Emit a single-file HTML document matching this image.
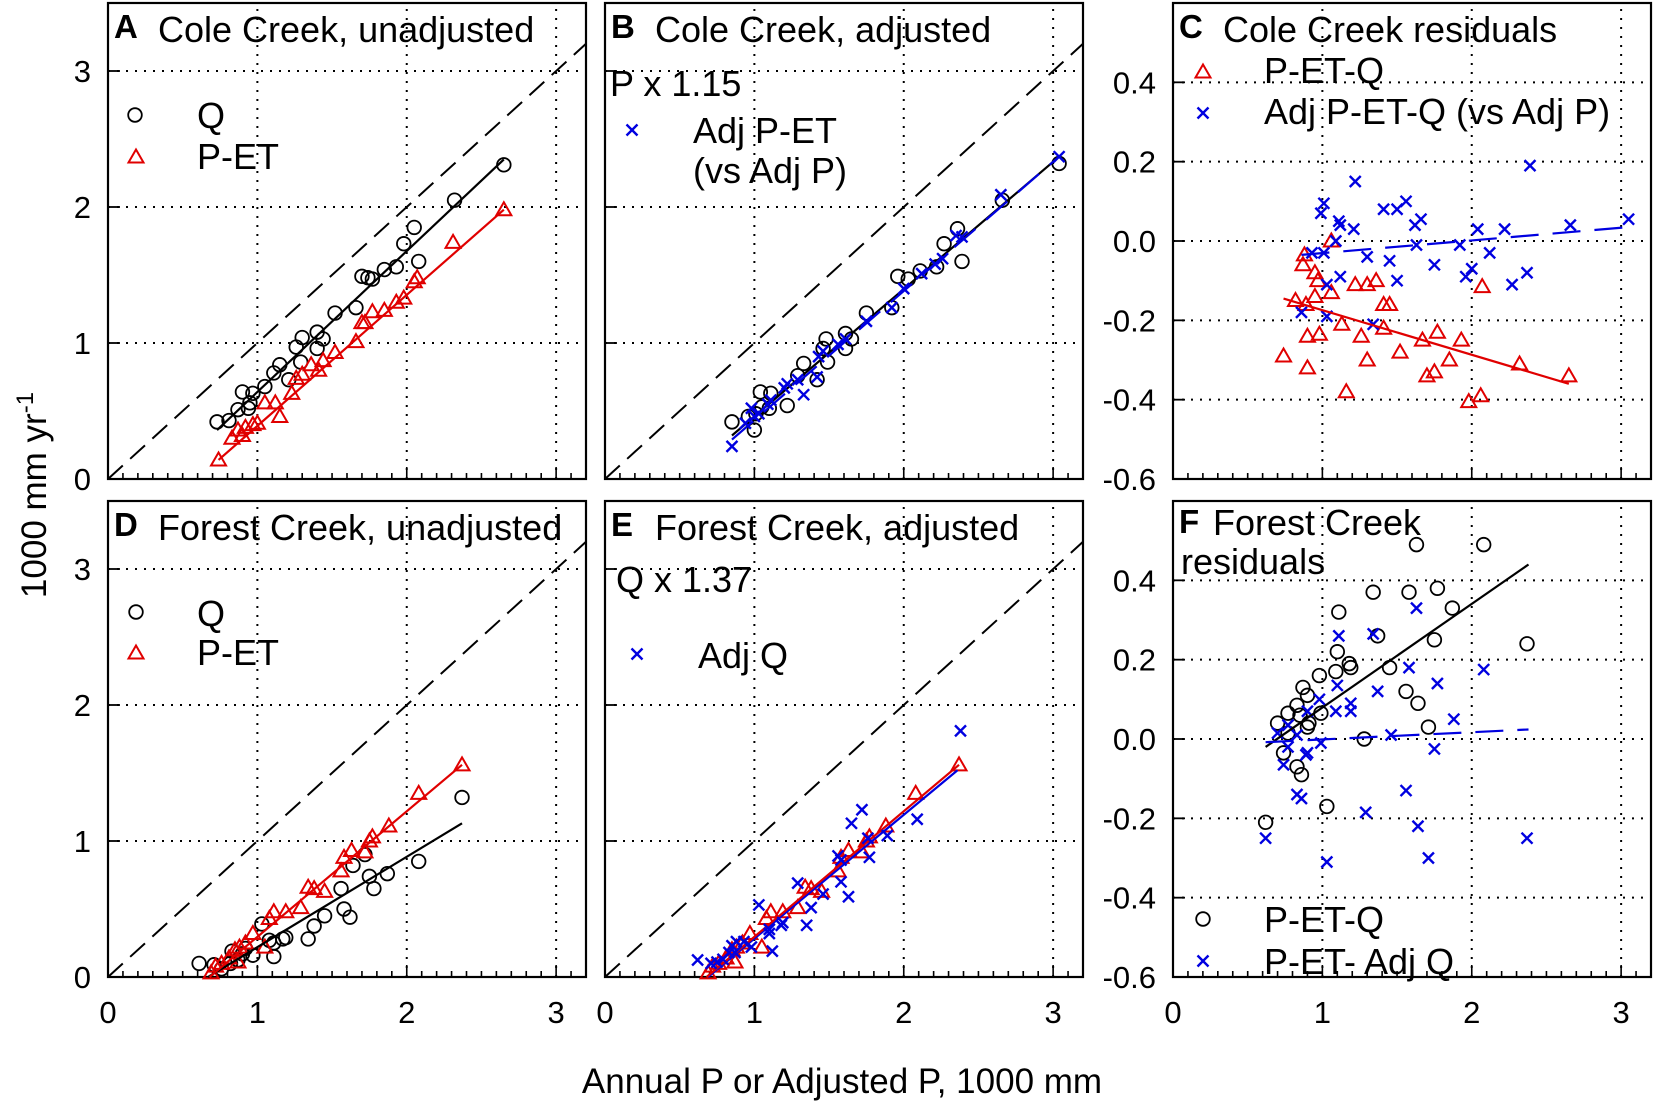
<!DOCTYPE html>
<html><head><meta charset="utf-8">
<style>
html,body{margin:0;padding:0;background:#fff;}
svg{display:block;font-family:"Liberation Sans",Arial,sans-serif;}
</style></head>
<body>
<svg id="fig" width="1655" height="1103" viewBox="0 0 1655 1103" xmlns="http://www.w3.org/2000/svg">
<text x="842" y="1093" font-size="35" text-anchor="middle">Annual P or Adjusted P, 1000 mm</text>
<text transform="translate(46,495) rotate(-90)" font-size="35" text-anchor="middle">1000 mm yr<tspan dy="-13" font-size="24">-1</tspan></text>
</svg>
<script>
// ---- Panel A: Cole Creek unadjusted ----
const aQx=[2.65,2.32,2.05,1.98,2.08,1.93,1.85,1.77,1.74,1.70,1.66,1.52,1.40,1.44,1.40,1.30,1.26,1.29,1.15,1.11,1.05,1.21,0.90,0.97,0.95,0.87,0.81,0.73,0.94];
const aQy=[2.31,2.05,1.85,1.73,1.60,1.56,1.54,1.47,1.48,1.49,1.26,1.22,1.08,1.03,0.96,1.04,0.97,0.86,0.84,0.78,0.68,0.73,0.64,0.63,0.56,0.51,0.43,0.42,0.52];
const aPx=[2.65,2.31,2.07,2.05,1.98,1.93,1.85,1.77,1.72,1.70,1.66,1.52,1.44,1.41,1.36,1.30,1.26,1.23,1.15,1.12,1.05,1.00,0.97,0.92,0.90,0.87,0.83,0.74];
const aPy=[1.98,1.74,1.48,1.45,1.33,1.30,1.24,1.23,1.15,1.15,1.01,0.93,0.87,0.80,0.84,0.77,0.74,0.63,0.46,0.56,0.56,0.41,0.40,0.38,0.32,0.36,0.30,0.14];
const aQfit=[0.73,0.36,2.65,2.35];
const aPfit=[0.74,0.14,2.65,1.98];
// ---- Panel B: Cole Creek adjusted ----
const bQx=[3.04,2.66,2.36,2.27,2.39,2.22,2.11,2.03,1.96,1.92,1.75,1.65,1.61,1.61,1.48,1.46,1.49,1.42,1.33,1.29,1.22,1.11,1.04,1.10,1.05,1.00,0.96,0.85,1.01];
const bQy=[2.32,2.05,1.84,1.73,1.60,1.56,1.53,1.47,1.49,1.26,1.22,1.03,1.07,0.96,1.03,0.96,0.86,0.73,0.85,0.76,0.54,0.63,0.64,0.52,0.53,0.36,0.46,0.42,0.48];
const bAx=[3.04,2.65,2.39,2.35,2.26,2.21,2.12,2.00,1.92,1.75,1.61,1.56,1.46,1.43,1.42,1.33,1.29,1.22,1.20,1.11,1.09,1.03,1.00,0.98,0.94,0.85];
const bAy=[2.37,2.09,1.78,1.79,1.62,1.58,1.51,1.40,1.26,1.16,1.03,0.99,0.94,0.90,0.75,0.62,0.73,0.70,0.67,0.58,0.55,0.48,0.46,0.52,0.41,0.24];
const bQfit=[0.85,0.32,3.04,2.37];
const bAfit=[0.85,0.29,3.05,2.38];
// ---- Panel C: Cole Creek residuals ----
const cRx=[1.06,0.88,0.87,0.95,0.97,1.06,1.22,1.30,1.36,2.07,0.82,0.89,0.95,1.41,1.45,1.13,1.26,0.90,0.98,1.41,1.67,1.77,1.93,0.74,1.30,1.52,1.85,0.90,1.70,1.75,2.32,2.65,1.16,1.98,2.06];
const cRy=[0.00,-0.035,-0.06,-0.08,-0.10,-0.13,-0.11,-0.11,-0.10,-0.115,-0.15,-0.16,-0.14,-0.16,-0.16,-0.21,-0.24,-0.24,-0.235,-0.22,-0.25,-0.23,-0.25,-0.29,-0.30,-0.28,-0.30,-0.32,-0.34,-0.33,-0.31,-0.34,-0.38,-0.405,-0.39];
const cAx=[2.39,1.22,1.01,0.99,1.11,1.12,1.21,1.41,1.50,1.56,1.66,1.62,2.04,2.22,2.66,3.05,1.09,1.63,1.92,0.93,1.01,1.30,1.45,1.75,2.12,2.00,1.96,2.37,2.27,1.12,1.03,1.50,0.86,1.03,1.34];
const cAy=[0.19,0.15,0.095,0.07,0.05,0.04,0.03,0.08,0.08,0.10,0.055,0.04,0.03,0.03,0.04,0.055,0.00,-0.01,-0.01,-0.03,-0.03,-0.04,-0.05,-0.06,-0.03,-0.07,-0.09,-0.08,-0.11,-0.09,-0.11,-0.10,-0.18,-0.19,-0.21];
const cRfit=[0.74,-0.145,2.65,-0.36];
const cAfit=[0.86,-0.035,3.05,0.035];
// ---- Panel D: Forest Creek unadjusted ----
const dQx=[2.37,2.08,1.87,1.75,1.78,1.72,1.64,1.56,1.58,1.62,1.45,1.38,1.34,1.19,1.17,1.11,1.11,1.08,1.03,0.97,0.92,0.87,0.83,0.82,0.76,0.71,0.61,0.90];
const dQy=[1.32,0.85,0.76,0.74,0.65,0.90,0.82,0.65,0.50,0.44,0.45,0.375,0.28,0.29,0.28,0.25,0.15,0.27,0.39,0.16,0.21,0.125,0.19,0.10,0.06,0.09,0.10,0.17];
const dPx=[2.37,2.08,1.88,1.77,1.75,1.72,1.63,1.58,1.56,1.45,1.38,1.34,1.29,1.19,1.11,1.08,1.05,0.97,0.92,0.88,0.85,0.81,0.76,0.72,0.69,0.87];
const dPy=[1.56,1.35,1.11,1.03,1.00,0.92,0.93,0.88,0.78,0.63,0.65,0.66,0.51,0.48,0.48,0.43,0.22,0.32,0.25,0.22,0.20,0.14,0.10,0.08,0.03,0.11];
const dQfit=[0.67,0.0,2.37,1.13];
const dPfit=[0.68,0.0,2.37,1.56];
// ---- Panel E: Forest Creek adjusted ----
const eAx=[2.38,2.09,1.72,1.65,1.89,1.76,1.77,1.56,1.58,1.58,1.63,1.29,1.46,1.38,1.35,1.19,1.18,1.10,1.10,1.03,1.12,0.98,0.93,0.88,0.85,0.83,0.79,0.75,0.71,0.62,0.87];
const eAy=[1.81,1.16,1.23,1.13,1.04,1.02,0.88,0.89,0.86,0.70,0.59,0.69,0.61,0.51,0.38,0.40,0.38,0.32,0.35,0.53,0.19,0.22,0.26,0.26,0.23,0.18,0.13,0.11,0.10,0.125,0.18];
const eAfit=[0.69,0.0,2.36,1.52];
// ---- Panel F: Forest Creek residuals ----
const fRx=[1.63,2.08,1.34,1.58,1.77,1.87,1.11,1.37,1.75,2.37,1.10,1.18,1.19,1.09,1.45,0.98,0.87,0.90,0.83,0.77,0.85,0.99,0.70,0.90,0.91,0.77,1.56,1.64,1.71,1.28,0.74,0.83,0.86,1.03,0.62];
const fRy=[0.49,0.49,0.37,0.37,0.38,0.33,0.32,0.26,0.25,0.24,0.22,0.19,0.18,0.17,0.18,0.16,0.13,0.11,0.085,0.065,0.06,0.065,0.04,0.03,0.04,0.015,0.12,0.09,0.03,0.00,-0.035,-0.07,-0.09,-0.17,-0.21];
const fAx=[1.63,1.11,1.34,1.58,2.08,1.10,1.37,1.77,1.19,1.19,1.09,0.98,0.90,1.88,1.46,0.99,0.77,0.70,0.83,0.77,1.75,0.90,0.89,0.74,0.83,0.86,1.56,1.29,1.64,0.62,2.37,1.03,1.71];
const fAy=[0.33,0.26,0.265,0.18,0.175,0.135,0.12,0.14,0.09,0.07,0.07,0.10,0.07,0.05,0.01,-0.01,0.035,0.015,0.01,-0.02,-0.025,-0.035,-0.04,-0.065,-0.14,-0.15,-0.13,-0.185,-0.22,-0.25,-0.25,-0.31,-0.30];
const fRfit=[0.62,-0.02,2.38,0.44];
const fAfit=[0.62,-0.008,2.38,0.024];
// ---- ticks ----
const xTicks=[0,1,2,3];
const xTickLabels=["0","1","2","3"];
const yTicksMain=[0,1,2,3];
const yTickLabelsMain=["0","1","2","3"];
const yTicksRes=[0.4,0.2,0.0,-0.2,-0.4,-0.6];
const yTickLabelsRes=["0.4","0.2","0.0","-0.2","-0.4","-0.6"];

const NS="http://www.w3.org/2000/svg";
const svg=document.getElementById('fig');
function mk(tag,attrs,parent){const e=document.createElementNS(NS,tag);for(const k in attrs)e.setAttribute(k,attrs[k]);(parent||svg).appendChild(e);return e;}

const colL=[108,605,1173];
const rowB=[479,977];
const PW=478, PH=476, XMAX=3.2;
const FS=36;

function makePanel(col,row,ymin,ymax,name){
  const L=colL[col],B=rowB[row];
  const g=mk('g',{});
  
  
  return {g,L,B,sx:v=>L+v/XMAX*PW,sy:v=>B-(v-ymin)/(ymax-ymin)*PH,ymin,ymax};
}
function frame(p,gridY,gridX){
  gridX.forEach(v=>{ if(v<=0)return; const l=mk('line',{x1:p.sx(v),x2:p.sx(v),y1:p.B,y2:p.B-PH,stroke:'#000','stroke-width':2,'stroke-dasharray':'2,7'},p.g);
    
    });
  gridY.forEach(v=>{ if(Math.abs(v-p.ymin)<1e-9)return; const l=mk('line',{x1:p.L,x2:p.L+PW,y1:p.sy(v),y2:p.sy(v),stroke:'#000','stroke-width':2,'stroke-dasharray':'2,7'},p.g);
    
    });
  for(let i=0;i<=32;i++){const v=i/10;const len=(i%10===0)?12:6;
    mk('line',{x1:p.sx(v),x2:p.sx(v),y1:p.B,y2:p.B-len,stroke:'#000','stroke-width':1.6},p.g);}
  gridY.forEach(v=>mk('line',{x1:p.L,x2:p.L+12,y1:p.sy(v),y2:p.sy(v),stroke:'#000','stroke-width':1.8},p.g));
  const r=mk('rect',{x:p.L,y:p.B-PH,width:PW,height:PH,fill:'none',stroke:'#000','stroke-width':2.2},p.g);
  
  
}
function clipId(p){const id='c'+Math.round(p.L)+'_'+p.B;const cp=mk('clipPath',{id},p.g);mk('rect',{x:p.L,y:p.B-PH,width:PW,height:PH},cp);return id;}
function oneToOne(p){const id=clipId(p);const l=mk('line',{x1:p.sx(0),y1:p.sy(0),x2:p.sx(XMAX),y2:p.sy(XMAX),stroke:'#000','stroke-width':2,'stroke-dasharray':'20,10','clip-path':`url(#${id})`},p.g);
  
  }
function fit(p,f,color,dashed,name){const l=mk('line',{x1:p.sx(f[0]),y1:p.sy(f[1]),x2:p.sx(f[2]),y2:p.sy(f[3]),stroke:color,'stroke-width':2.2},p.g);
  if(dashed)l.setAttribute('stroke-dasharray','28,14');
  
  }
function marker(p,type,cx,cy,name){
  let e;
  if(type==='o'){e=mk('circle',{cx,cy,r:6.8,fill:'none',stroke:'#000','stroke-width':1.8},p.g);}
  else if(type==='t'){e=mk('polygon',{points:`${cx},${cy-7.5} ${cx-7.5},${cy+5.5} ${cx+7.5},${cy+5.5}`,fill:'none',stroke:'#e00000','stroke-width':2},p.g);}
  else {e=mk('path',{d:`M${cx-5.5},${cy-5.5}L${cx+5.5},${cy+5.5}M${cx-5.5},${cy+5.5}L${cx+5.5},${cy-5.5}`,stroke:'#0000e0','stroke-width':2.4,fill:'none'},p.g);}
  
  
  return e;
}
function series(p,xs,ys,type,name){xs.forEach((x,i)=>marker(p,type,p.sx(x),p.sy(ys[i]),name));}
function txt(p,x,y,s,opts,name){const t=mk('text',Object.assign({x,y,'font-size':FS},opts||{}),p?p.g:svg);t.textContent=s;
  
  return t;}
function title(p,letter,s,name){txt(p,p.L+6,p.B-PH+35,letter,{'font-weight':'bold','font-size':33},'panel-letter');txt(p,p.L+50,p.B-PH+39,s,{},name);}

const mainGrid=[0,1,2,3];
const resGrid=[-0.6,-0.4,-0.2,0,0.2,0.4];
const xGrid=[1,2,3];

// Panel A
let p=makePanel(0,0,0,3.5,'panel-a');
frame(p,mainGrid,xGrid);oneToOne(p);
fit(p,aQfit,'#000',false,'q-fit-line');fit(p,aPfit,'#e00000',false,'p-et-fit-line');
series(p,aQx,aQy,'o','q-point');series(p,aPx,aPy,'t','p-et-point');
title(p,'A','Cole Creek, unadjusted','panel-a-title');
marker(p,'o',135,115,'legend-q-marker');txt(p,197,128,'Q',{},'legend-q-label');
marker(p,'t',136,157,'legend-p-et-marker');txt(p,197,169,'P-ET',{},'legend-p-et-label');

// Panel B
p=makePanel(1,0,0,3.5,'panel-b');
frame(p,mainGrid,xGrid);oneToOne(p);
series(p,bQx,bQy,'o','q-point');
fit(p,bQfit,'#000',false,'q-fit-line');fit(p,bAfit,'#0000e0',true,'adj-p-et-fit-line');
series(p,bAx,bAy,'x','adj-p-et-point');
title(p,'B','Cole Creek, adjusted','panel-b-title');
txt(p,610,96,'P x 1.15',{},'adjust-factor-label');
marker(p,'x',632,130,'legend-adj-p-et-marker');
txt(p,693,143,'Adj P-ET',{},'legend-adj-p-et-label');
txt(p,693,183,'(vs Adj P)',{},'legend-adj-p-et-label-2');

// Panel C
p=makePanel(2,0,-0.6,0.6,'panel-c');
frame(p,resGrid,xGrid);
series(p,cRx,cRy,'t','p-et-q-point');series(p,cAx,cAy,'x','adj-p-et-q-point');
fit(p,cRfit,'#e00000',false,'p-et-q-fit-line');fit(p,cAfit,'#0000e0',true,'adj-p-et-q-fit-line');
title(p,'C','Cole Creek residuals','panel-c-title');
marker(p,'t',1203,72,'legend-p-et-q-marker');txt(p,1264,83,'P-ET-Q',{},'legend-p-et-q-label');
marker(p,'x',1203,113,'legend-adj-p-et-q-marker');txt(p,1264,124,'Adj P-ET-Q (vs Adj P)',{},'legend-adj-p-et-q-label');

// Panel D
p=makePanel(0,1,0,3.5,'panel-d');
frame(p,mainGrid,xGrid);oneToOne(p);
series(p,dQx,dQy,'o','q-point');series(p,dPx,dPy,'t','p-et-point');
fit(p,dQfit,'#000',false,'q-fit-line');fit(p,dPfit,'#e00000',false,'p-et-fit-line');
title(p,'D','Forest Creek, unadjusted','panel-d-title');
marker(p,'o',136,612,'legend-q-marker');txt(p,197,626,'Q',{},'legend-q-label');
marker(p,'t',136,653,'legend-p-et-marker');txt(p,197,665,'P-ET',{},'legend-p-et-label');

// Panel E
p=makePanel(1,1,0,3.5,'panel-e');
frame(p,mainGrid,xGrid);oneToOne(p);
series(p,dPx,dPy,'t','p-et-point');
fit(p,eAfit,'#0000e0',false,'adj-q-fit-line');fit(p,dPfit,'#e00000',false,'p-et-fit-line');
series(p,eAx,eAy,'x','adj-q-point');
title(p,'E','Forest Creek, adjusted','panel-e-title');
txt(p,616,592,'Q x 1.37',{},'adjust-factor-label');
marker(p,'x',637,654,'legend-adj-q-marker');txt(p,698,668,'Adj Q',{},'legend-adj-q-label');

// Panel F
p=makePanel(2,1,-0.6,0.6,'panel-f');
frame(p,resGrid,xGrid);
series(p,fRx,fRy,'o','p-et-q-point');series(p,fAx,fAy,'x','p-et-adj-q-point');
fit(p,fRfit,'#000',false,'p-et-q-fit-line');fit(p,fAfit,'#0000e0',true,'p-et-adj-q-fit-line');
txt(p,1179,533,'F',{'font-weight':'bold','font-size':33},'panel-letter');
txt(p,1213,535,'Forest Creek',{},'panel-f-title');
txt(p,1181,574,'residuals',{},'panel-f-title-2');
marker(p,'o',1203,919,'legend-p-et-q-marker');txt(p,1264,932,'P-ET-Q',{},'legend-p-et-q-label');
marker(p,'x',1203,961,'legend-p-et-adj-q-marker');txt(p,1264,974,'P-ET- Adj Q',{},'legend-p-et-adj-q-label');

// Tick labels
[0,1].forEach(r=>{
  yTicksMain.forEach((v,i)=>{const y=rowB[r]-v/3.5*PH;txt(null,91,y+11,yTickLabelsMain[i],{'font-size':31,'text-anchor':'end'},'y-tick-label');});
  yTicksRes.forEach((v,i)=>{const y=rowB[r]-(v+0.6)/1.2*PH;txt(null,1156,y+11,yTickLabelsRes[i],{'font-size':31,'text-anchor':'end'},'y-tick-label');});
});
colL.forEach(L=>xTicks.forEach((v,i)=>txt(null,L+v/XMAX*PW,1023,xTickLabels[i],{'font-size':31,'text-anchor':'middle'},'x-tick-label')));
</script>
</body></html>
